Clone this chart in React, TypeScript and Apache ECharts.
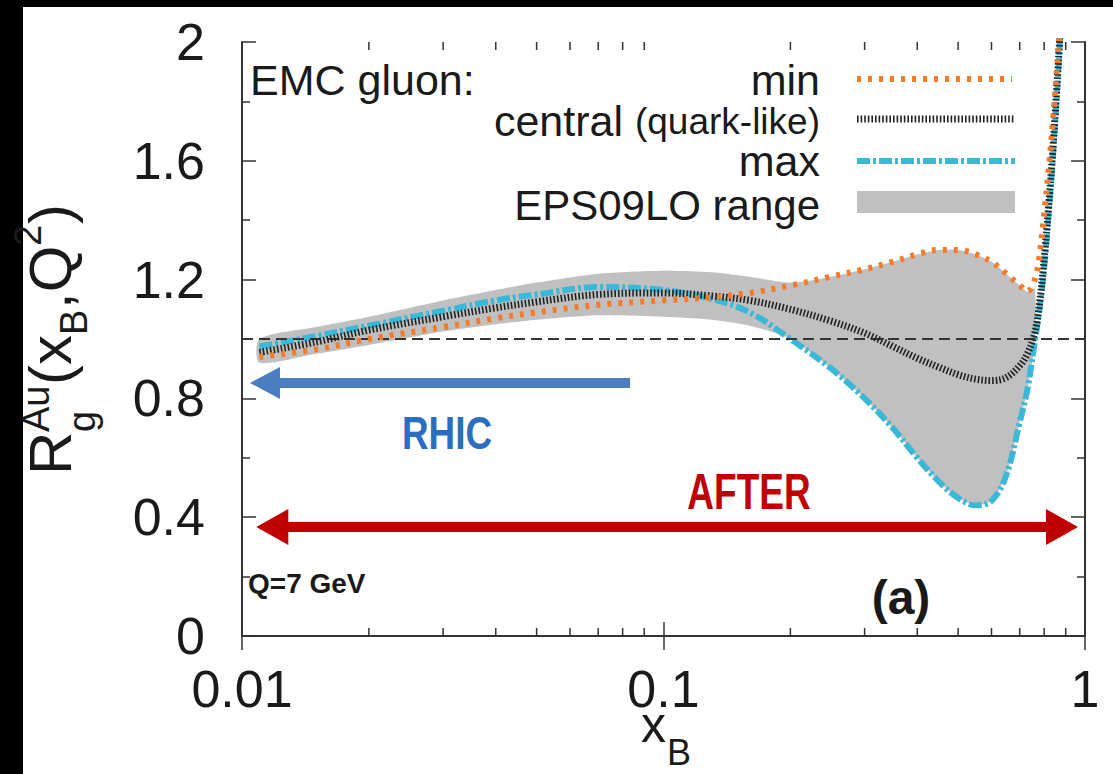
import React, { useEffect, useRef } from "react";
import * as echarts from "echarts";

// ---- data ----
const xGrid = [0.011, 0.015, 0.02, 0.03, 0.04, 0.05, 0.07, 0.1, 0.13, 0.16, 0.2, 0.25, 0.3, 0.35, 0.4, 0.45, 0.5, 0.55, 0.6, 0.65, 0.7, 0.73, 0.76, 0.78, 0.8, 0.82, 0.84, 0.86, 0.88];
const centralValues = [0.955, 0.99, 1.03, 1.075, 1.105, 1.125, 1.15, 1.155, 1.145, 1.13, 1.10, 1.06, 1.02, 0.975, 0.935, 0.905, 0.88, 0.865, 0.86, 0.87, 0.91, 0.95, 1.02, 1.12, 1.27, 1.45, 1.65, 1.88, 2.12];
const minValues = [0.94, 0.965, 1.0, 1.04, 1.07, 1.09, 1.115, 1.13, 1.14, 1.155, 1.18, 1.21, 1.235, 1.26, 1.285, 1.30, 1.30, 1.285, 1.26, 1.22, 1.18, 1.16, 1.2, 1.28, 1.42, 1.57, 1.74, 1.93, 2.15];
const maxValues = [0.975, 1.01, 1.045, 1.095, 1.13, 1.15, 1.175, 1.165, 1.135, 1.09, 1.0, 0.9, 0.8, 0.7, 0.6, 0.52, 0.465, 0.44, 0.455, 0.54, 0.72, 0.83, 0.99, 1.1, 1.24, 1.42, 1.62, 1.85, 2.1];

const bandX = [0.011, 0.015, 0.02, 0.03, 0.04, 0.05, 0.07, 0.1, 0.13, 0.16, 0.2, 0.25, 0.3, 0.35, 0.4, 0.45, 0.5, 0.55, 0.6, 0.65, 0.7, 0.73, 0.76];
const bandLower = [0.92, 0.95, 0.98, 1.025, 1.05, 1.065, 1.08, 1.075, 1.065, 1.045, 1.0, 0.9, 0.8, 0.7, 0.6, 0.52, 0.465, 0.44, 0.455, 0.54, 0.72, 0.83, 0.99];
const bandUpper = [1.0, 1.04, 1.075, 1.13, 1.165, 1.19, 1.22, 1.23, 1.225, 1.21, 1.19, 1.21, 1.235, 1.26, 1.285, 1.30, 1.30, 1.285, 1.26, 1.22, 1.18, 1.16, 1.17];

const minorXTicks = [0.02, 0.03, 0.04, 0.05, 0.06, 0.07, 0.08, 0.09, 0.2, 0.3, 0.4, 0.5, 0.6, 0.7, 0.8, 0.9];
const xTickLabels: Record<string, string> = { "0.01": "0.01", "0.1": "0.1", "1": "1" };
const unityValue = 1;
const rhicArrow = [[0.01134, 0.852], [0.0833, 0.852]];
const afterArrow = [[0.0118, 0.367], [0.882, 0.367]];

const seriesNames = ["min", "central (quark-like)", "max", "EPS09LO range"];

const SANS = "'Liberation Sans', Arial, Helvetica, sans-serif";
const AXIS_COLOR = "#333";
const ORANGE = "#f47b2a";
const BLACK = "#222";
const CYAN = "#3ab8d8";
const GREY = "#c0c0c0";

const pairs = (xs: number[], ys: number[]) => xs.map((x, i) => [x, ys[i]]);

export default function App() {
  const ref = useRef<HTMLDivElement>(null);

  useEffect(() => {
    if (!ref.current) return;
    const chart = echarts.init(ref.current, undefined, { renderer: "svg" });

    const axisLine = { show: true, lineStyle: { color: AXIS_COLOR, width: 2 } };
    const tickStyle = { color: AXIS_COLOR, width: 1.5 };

    const xAxisBase = {
      type: "log" as const,
      logBase: 10,
      min: 0.01,
      max: 1,
      axisLine,
      axisTick: { show: true, inside: true, length: 14, lineStyle: tickStyle },
      splitLine: { show: false },
      minorTick: { show: false },
    };
    const yAxisBase = {
      type: "value" as const,
      min: 0,
      max: 2,
      interval: 0.4,
      axisLine,
      axisTick: { show: true, inside: true, length: 14, lineStyle: tickStyle },
      minorTick: { show: true, splitNumber: 2, length: 8, lineStyle: tickStyle },
      splitLine: { show: false },
    };

    const txt = (text: string, x: number, y: number, fontSize: number, extra: any = {}, el: any = {}) => ({
      type: "text",
      x,
      y,
      ...el,
      style: {
        text,
        fontSize,
        fontFamily: SANS,
        fill: "#1a1a1a",
        align: "left",
        verticalAlign: "middle",
        lineHeight: Math.round(fontSize * 0.8),
        ...extra,
      },
    });

    const option: any = {
      animation: false,
      backgroundColor: "#ffffff",
      grid: { left: 242, right: 28, top: 42, bottom: 138, containLabel: false },
      xAxis: [
        {
          ...xAxisBase,
          position: "bottom",
          axisLabel: {
            show: true,
            margin: 33,
            fontSize: 52,
            lineHeight: 40,
            fontFamily: SANS,
            color: "#1a1a1a",
            formatter: (v: number) => {
              const k = String(Number(v.toPrecision(3)));
              return xTickLabels[k] ?? k;
            },
          },
        },
        { ...xAxisBase, position: "top", axisLabel: { show: false } },
      ],
      yAxis: [
        {
          ...yAxisBase,
          position: "left",
          axisLabel: { show: true, margin: 37, fontSize: 52, fontFamily: SANS, color: "#1a1a1a" },
        },
        { ...yAxisBase, position: "right", axisLabel: { show: false } },
      ],
      series: [
        {
          name: seriesNames[3],
          type: "custom",
          coordinateSystem: "cartesian2d",
          data: [[bandX[0], bandLower[0]]],
          encode: { x: 0, y: 1 },
          silent: true,
          z: 1,
          renderItem: (_params: any, api: any) => {
            const upper = bandX.map((x, i) => api.coord([x, bandUpper[i]]));
            const lower = bandX.map((x, i) => api.coord([x, bandLower[i]])).reverse();
            return {
              type: "polygon",
              shape: { points: upper.concat(lower), smooth: 0.25 },
              style: { fill: GREY, stroke: "none" },
            };
          },
        },
        {
          name: "reference lines",
          type: "line",
          data: [],
          z: 3,
          markLine: {
            silent: true,
            animation: false,
            symbol: "none",
            label: { show: false },
            lineStyle: { color: AXIS_COLOR, width: 2, type: [11, 6] },
            data: [{ yAxis: unityValue }],
          },
        },
        {
          name: seriesNames[2],
          type: "line",
          data: pairs(xGrid, maxValues),
          smooth: 0.35,
          symbol: "none",
          clip: true,
          lineStyle: { color: CYAN, width: 6, type: [13, 3, 3, 3] },
          z: 4,
        },
        {
          name: seriesNames[1],
          type: "line",
          data: pairs(xGrid, centralValues),
          smooth: 0.35,
          symbol: "none",
          clip: true,
          lineStyle: { color: BLACK, width: 7, type: [1.6, 2] },
          z: 5,
        },
        {
          name: seriesNames[0],
          type: "line",
          data: pairs(xGrid, minValues),
          smooth: 0.35,
          symbol: "none",
          clip: true,
          lineStyle: { color: ORANGE, width: 6, type: [4, 7] },
          z: 6,
        },
        {
          name: "arrows",
          type: "line",
          data: [],
          z: 7,
          markLine: {
            silent: true,
            animation: false,
            label: { show: false },
            data: [
              [
                {
                  coord: rhicArrow[0],
                  symbol: "triangle",
                  symbolSize: [32, 30],
                  lineStyle: { color: "#4a7ec0", width: 10, type: "solid" },
                },
                { coord: rhicArrow[1], symbol: "none" },
              ],
              [
                {
                  coord: afterArrow[0],
                  symbol: "triangle",
                  symbolSize: [36, 32],
                  lineStyle: { color: "#c00000", width: 10, type: "solid" },
                },
                { coord: afterArrow[1], symbol: "triangle", symbolSize: [36, 32] },
              ],
            ],
          },
        },
        {
          name: "minor ticks",
          type: "custom",
          data: minorXTicks.map((v) => [v, 0]),
          encode: { x: 0, y: 1 },
          clip: false,
          silent: true,
          z: 10,
          renderItem: (_params: any, api: any) => {
            const v = api.value(0);
            const b = api.coord([v, 0]);
            const t = api.coord([v, 2]);
            const st = { stroke: AXIS_COLOR, lineWidth: 1.5 };
            return {
              type: "group",
              children: [
                { type: "line", shape: { x1: b[0], y1: b[1], x2: b[0], y2: b[1] - 8 }, style: st },
                { type: "line", shape: { x1: t[0], y1: t[1], x2: t[0], y2: t[1] + 8 }, style: st },
              ],
            };
          },
        },
      ],
      graphic: [
        // black frame bands of the photographed figure
        { type: "rect", shape: { x: 0, y: 0, width: 23, height: 774 }, style: { fill: "#000" } },
        { type: "rect", shape: { x: 0, y: 0, width: 1113, height: 7 }, style: { fill: "#000" } },
        // y-axis title R_g^Au(x_B,Q^2), rotated
        {
          type: "group",
          x: 72,
          y: 475,
          rotation: Math.PI / 2,
          children: [
            txt("R", 0, -22, 60),
            txt("g", 43, 10, 38),
            txt("Au", 43, -36, 38),
            txt("(x", 90, -22, 60),
            txt("B", 140, 2, 38),
            txt(",Q", 166, -22, 60),
            txt("2", 229, -44, 38),
            txt(")", 251, -22, 60),
          ],
        },
        // x-axis title x_B
        txt("x", 641, 725, 50),
        txt("B", 667, 752, 36),
        // legend
        txt("EMC gluon:", 250, 80, 43),
        txt(seriesNames[0], 820, 80, 43, { align: "right" }),
        {
          type: "text",
          x: 820,
          y: 121,
          style: {
            text: "{a|central }{b|(quark-like)}",
            align: "right",
            verticalAlign: "middle",
            fill: "#1a1a1a",
            rich: {
              a: { fontSize: 43, fontFamily: SANS, fill: "#1a1a1a", lineHeight: 34 },
              b: { fontSize: 37, fontFamily: SANS, fill: "#1a1a1a", lineHeight: 34 },
            },
          },
        },
        txt(seriesNames[2], 820, 161, 43, { align: "right" }),
        txt(seriesNames[3], 820, 205, 42, { align: "right" }),
        { type: "line", shape: { x1: 857, y1: 79, x2: 1012, y2: 79 }, style: { stroke: ORANGE, lineWidth: 6, lineDash: [4, 7] } },
        { type: "line", shape: { x1: 857, y1: 119, x2: 1015, y2: 119 }, style: { stroke: BLACK, lineWidth: 7, lineDash: [1.6, 2] } },
        { type: "line", shape: { x1: 857, y1: 161, x2: 1015, y2: 161 }, style: { stroke: CYAN, lineWidth: 6, lineDash: [13, 3, 3, 3] } },
        { type: "rect", shape: { x: 857, y: 191, width: 158, height: 22 }, style: { fill: GREY } },
        // annotations (condensed bold)
        txt("RHIC", 447, 433, 46, { align: "center", fontWeight: "bold", fill: "#2a6ebf" }, { scaleX: 0.8 }),
        txt("AFTER", 749, 491, 50, { align: "center", fontWeight: "bold", fill: "#c00000" }, { scaleX: 0.74 }),
        txt("Q=7 GeV", 248, 583, 28, { fontWeight: "bold" }),
        txt("(a)", 901, 597, 48, { align: "center", fontWeight: "bold" }),
      ],
    };

    chart.setOption(option);
    return () => chart.dispose();
  }, []);

  return (
    <div
      ref={ref}
      style={{ position: "absolute", left: 0, top: 0, width: 1113, height: 774, background: "#fff" }}
    />
  );
}
